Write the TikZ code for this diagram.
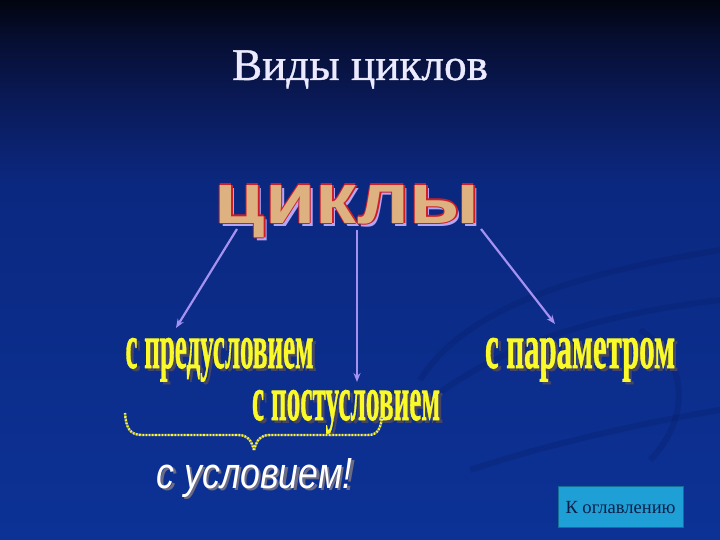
\documentclass[tikz,border=0pt]{standalone}
\usepackage{fontspec}
\setmainfont{Liberation Serif}
\newfontfamily\sansfam{Liberation Sans}
\newfontfamily\heavyfam[FakeBold=1.2]{Liberation Serif Bold}
\newfontfamily\titlefam[FakeBold=0.8]{Liberation Serif}
\usetikzlibrary{arrows.meta}
\definecolor{bgtop}{RGB}{2,4,16}
\definecolor{bgupper}{RGB}{6,14,50}
\definecolor{bgup2}{RGB}{10,26,88}
\definecolor{bgmid}{RGB}{11,40,128}
\definecolor{bgbot}{RGB}{12,50,150}
\definecolor{titlecol}{RGB}{236,234,255}
\definecolor{arrowcol}{RGB}{165,145,240}
\definecolor{tancol}{RGB}{222,178,128}
\definecolor{redcol}{RGB}{205,30,40}
\definecolor{lavcol}{RGB}{180,165,245}
\definecolor{yelcol}{RGB}{250,250,40}
\definecolor{shadcol}{RGB}{70,70,100}
\definecolor{btncol}{RGB}{30,160,215}
\definecolor{btntext}{RGB}{10,30,70}
\definecolor{swirl}{RGB}{6,30,105}
% visible part of a vertical shading runs from 25bp (bottom) to 75bp (top)
\pgfdeclareverticalshading{bgshade}{100bp}{color(0bp)=(bgbot); color(25bp)=(bgbot); color(58bp)=(bgmid); color(65.7bp)=(bgup2); color(71.3bp)=(bgupper); color(75bp)=(bgtop); color(100bp)=(bgtop)}
\newcommand\cyclesword{\resizebox{265pt}{38pt}{\sansfam\bfseries циклы}}
\newcommand\yelword[2]{\resizebox{#1}{30pt}{\heavyfam #2}}
\begin{document}
\begin{tikzpicture}[x=1pt,y=-1pt,
  lbl/.style={inner sep=0pt, outer sep=0pt, anchor=base},
  titlestyle/.style={lbl, text=titlecol, font=\titlefam\fontsize{36}{40}\selectfont},
  connector/.style={draw=arrowcol, line width=2.2pt, -{Stealth[length=9pt,width=7pt]}},
  braceline/.style={line width=2.4pt, draw=yelcol, dash pattern=on 1.6pt off 1.6pt,
     preaction={draw=shadcol!70!white, line width=2.4pt, dash pattern=on 1.6pt off 1.6pt, dash phase=1.6pt}},
  button/.style={fill=btncol, draw=btncol!70!black, line width=0.6pt, minimum width=125pt, minimum height=41pt, inner sep=0pt}
]
\useasboundingbox (0,0) rectangle (720,540);
\shade[shading=bgshade] (0,0) rectangle (720,540);
% faint swirls
\begin{scope}[draw=swirl, opacity=0.3, line width=6pt]
\draw (420,380) .. controls (470,300) and (600,270) .. (720,250);
\draw (430,400) .. controls (520,330) and (640,310) .. (720,300);
\draw (470,470) .. controls (560,440) and (660,420) .. (720,410);
\draw (640,330) .. controls (690,360) and (690,420) .. (650,460);
\end{scope}
% title
\node[titlestyle] (title) at (360,80) {\resizebox{256pt}{!}{Виды циклов}};
% cycles word with outline and shadow
\node[lbl, text=lavcol] (cycshadow) at (350.5,226) {\cyclesword};
\foreach \dx/\dy in {-1.2/0,1.2/0,0/-1.2,0/1.2}
  \node[lbl, text=redcol] at (347.5+\dx,223+\dy) {\cyclesword};
\node[lbl, text=tancol] (cycles) at (347.5,223) {\cyclesword};
% yellow labels
\node[lbl, text=shadcol] at (222.5,370.5) {\yelword{188pt}{с предусловием}};
\node[lbl, text=yelcol] (pre) at (219.5,368) {\yelword{188pt}{с предусловием}};
\node[lbl, text=shadcol] at (349,422.5) {\yelword{188pt}{с постусловием}};
\node[lbl, text=yelcol] (post) at (346,420) {\yelword{188pt}{с постусловием}};
\node[lbl, text=shadcol] at (583,370.5) {\yelword{190pt}{с параметром}};
\node[lbl, text=yelcol] (param) at (580,368) {\yelword{190pt}{с параметром}};
% arrows
\coordinate (a1s) at (237,229);
\coordinate (a1e) at (176,328);
\coordinate (a2s) at (357,230);
\coordinate (a2e) at (357,382);
\coordinate (a3s) at (481,229);
\coordinate (a3e) at (555,324);
\draw[connector] (a1s) -- (a1e);
\draw[connector] (a2s) -- (a2e);
\draw[connector] (a3s) -- (a3e);
% brace
\coordinate (bl) at (125,413);
\coordinate (bt) at (254,450);
\coordinate (br) at (382,416);
\draw[braceline] (bl) .. controls (126,428) and (130,435) .. (142,435) -- (238,435) .. controls (248,435) and (251,440) .. (bt);
\draw[braceline] (bt) .. controls (257,440) and (260,435) .. (270,435) -- (368,435) .. controls (378,435) and (381,428) .. (br);
% condition
\node[lbl, text=shadcol!80!white] at (257,490.5) {\resizebox{196pt}{30pt}{\sansfam\itshape с условием!}};
\node[lbl, text=white] (cond) at (254.5,488) {\resizebox{196pt}{30pt}{\sansfam\itshape с условием!}};
% button
\node[button] (btn) at (620.5,507) {};
\node[lbl, text=btntext] (btntxt) at (620.5,513) {\resizebox{110pt}{!}{\fontsize{14}{16}\selectfont К оглавлению}};
\end{tikzpicture}
\end{document}
